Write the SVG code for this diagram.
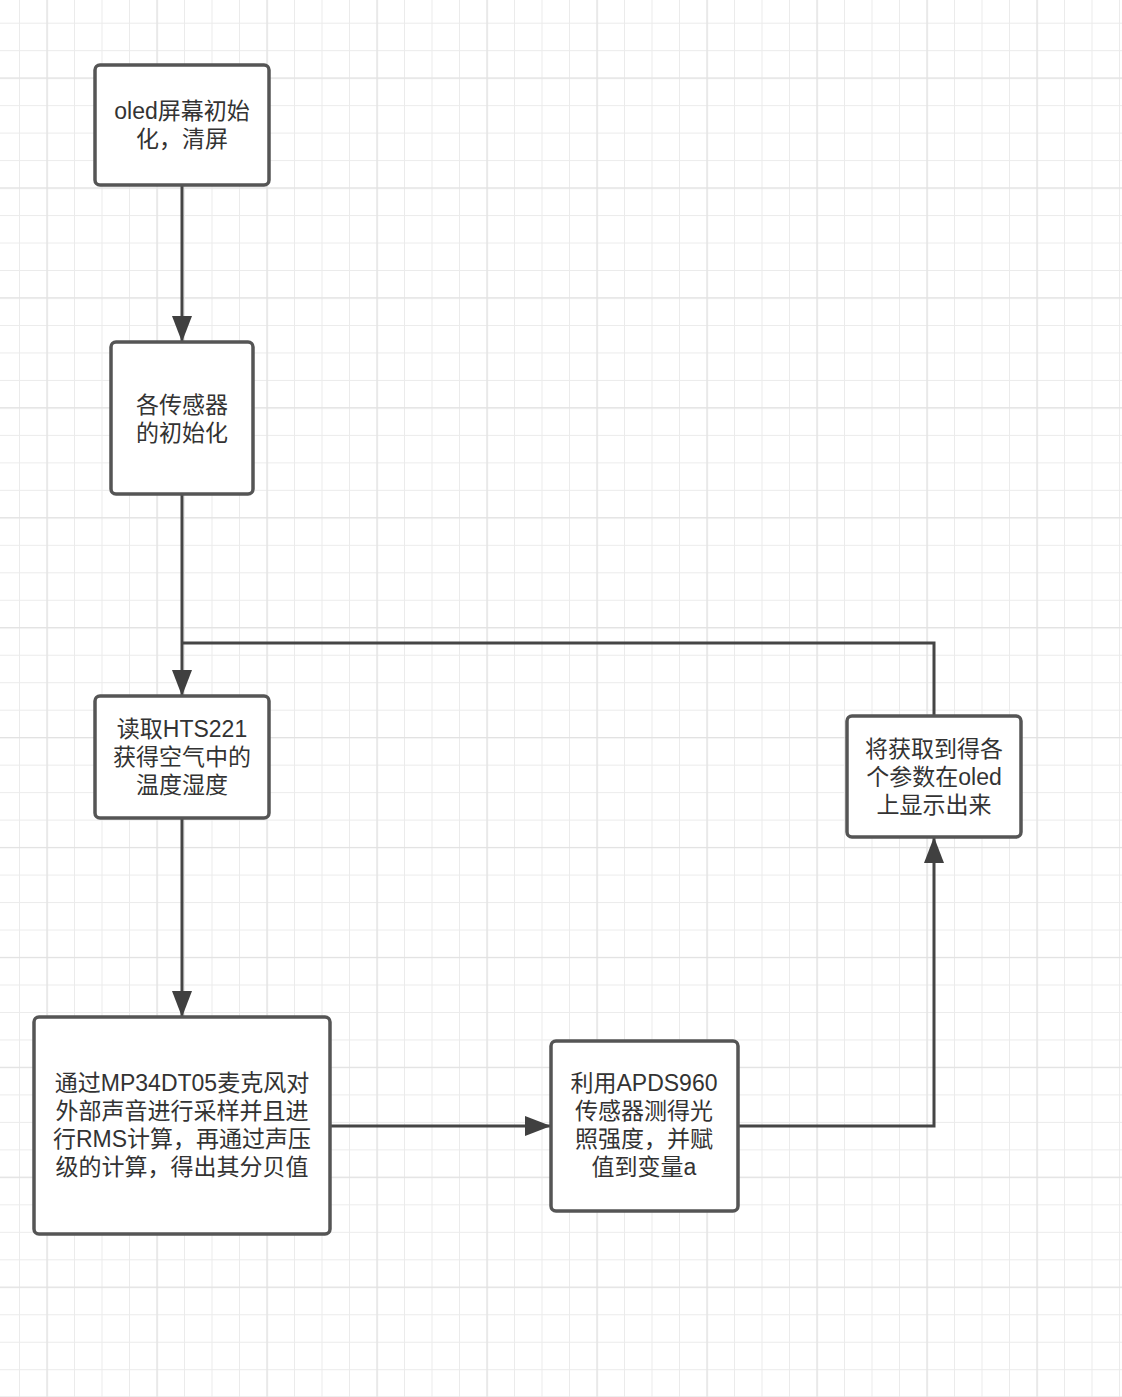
<svg xmlns="http://www.w3.org/2000/svg" width="1122" height="1397" viewBox="0 0 1122 1397">
<defs>
<pattern id="minor" patternUnits="userSpaceOnUse" x="19" y="22.7" width="27.5" height="27.48">
<path d="M0 0 H27.5 M0 0 V27.48" fill="none" stroke="#ebebeb" stroke-width="2"/>
</pattern>
<pattern id="major" patternUnits="userSpaceOnUse" x="46.5" y="77.5" width="110" height="109.92">
<path d="M0 0 H110 M0 0 V109.92" fill="none" stroke="#e2e2e2" stroke-width="2.5"/>
</pattern>
<marker id="arr" viewBox="0 0 26 20" refX="26" refY="10" markerWidth="26" markerHeight="20" markerUnits="userSpaceOnUse" orient="auto">
<path d="M0 0 L26 10 L0 20 Z" fill="#404040"/>
</marker>
</defs>
<style>
.box{fill:#ffffff;stroke:#555555;stroke-width:3.5}
.t{font-family:"Liberation Sans","Noto Sans CJK SC",sans-serif;font-size:23px;fill:#333333;text-anchor:middle;dominant-baseline:central}
.c{fill:none;stroke:#454545;stroke-width:3}
</style>
<rect width="1122" height="1397" fill="#ffffff"/>
<rect width="1122" height="1397" fill="url(#minor)"/>
<rect width="1122" height="1397" fill="url(#major)"/>
<g id="connectors">
<path class="c" d="M182 186 V342" marker-end="url(#arr)"/>
<path class="c" d="M182 494 V696" marker-end="url(#arr)"/>
<path class="c" d="M934 716 V643 H182"/>
<path class="c" d="M182 818 V1017" marker-end="url(#arr)"/>
<path class="c" d="M330 1126 H551" marker-end="url(#arr)"/>
<path class="c" d="M738 1126 H934 V837" marker-end="url(#arr)"/>
</g>
<g id="node-oled-init">
<rect class="box" x="95" y="65" width="174" height="120" rx="5"/>
<text class="t" x="182" y="111">oled屏幕初始</text>
<text class="t" x="182" y="139">化，清屏</text>
</g>
<g id="node-sensor-init">
<rect class="box" x="111" y="342" width="142" height="152" rx="5"/>
<text class="t" x="182" y="405">各传感器</text>
<text class="t" x="182" y="433">的初始化</text>
</g>
<g id="node-hts221">
<rect class="box" x="95" y="696" width="174" height="122" rx="5"/>
<text class="t" x="182" y="729">读取HTS221</text>
<text class="t" x="182" y="757">获得空气中的</text>
<text class="t" x="182" y="785">温度湿度</text>
</g>
<g id="node-mic">
<rect class="box" x="34" y="1017" width="296" height="217" rx="5"/>
<text class="t" x="182" y="1083">通过MP34DT05麦克风对</text>
<text class="t" x="182" y="1111">外部声音进行采样并且进</text>
<text class="t" x="182" y="1139">行RMS计算，再通过声压</text>
<text class="t" x="182" y="1167">级的计算，得出其分贝值</text>
</g>
<g id="node-apds">
<rect class="box" x="551" y="1041" width="187" height="170" rx="5"/>
<text class="t" x="644" y="1083">利用APDS960</text>
<text class="t" x="644" y="1111">传感器测得光</text>
<text class="t" x="644" y="1139">照强度，并赋</text>
<text class="t" x="644" y="1167">值到变量a</text>
</g>
<g id="node-display">
<rect class="box" x="847" y="716" width="174" height="121" rx="5"/>
<text class="t" x="934" y="749">将获取到得各</text>
<text class="t" x="934" y="777">个参数在oled</text>
<text class="t" x="934" y="805">上显示出来</text>
</g>
</svg>
